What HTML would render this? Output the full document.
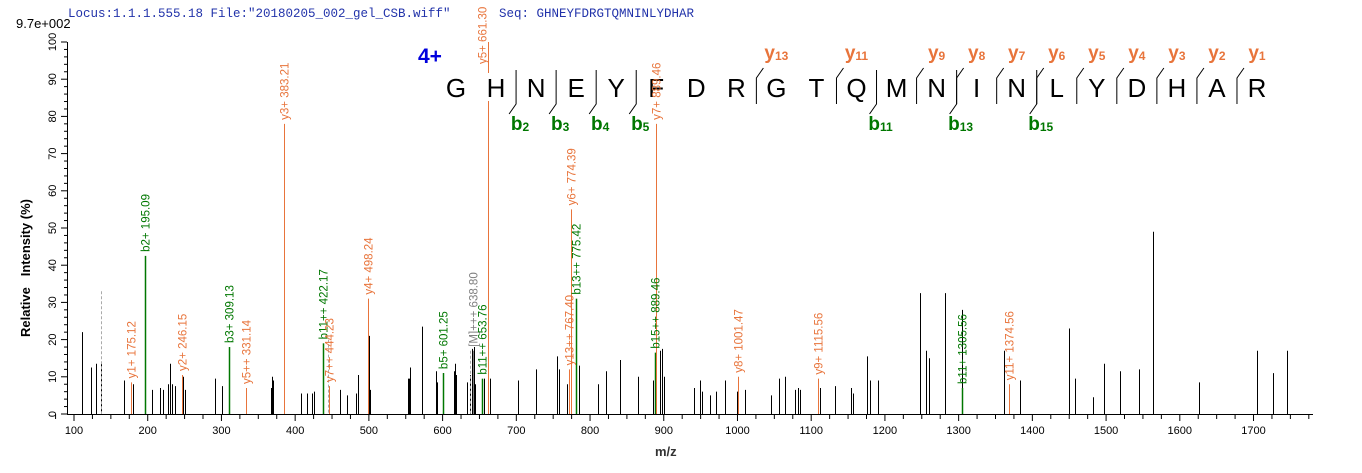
<!DOCTYPE html>
<html><head><meta charset="utf-8"><style>
html,body{margin:0;padding:0;background:#fff;width:1362px;height:473px;overflow:hidden}
svg{display:block;font-family:"Liberation Sans",Arial,sans-serif}
</style></head><body>
<svg id="s" width="1362" height="473" xmlns="http://www.w3.org/2000/svg">
<text x="68" y="17" font-family="Liberation Mono,monospace" font-size="12.5" fill="#2233aa">Locus:1.1.1.555.18 File:"20180205_002_gel_CSB.wiff"</text>
<text x="499" y="17" font-family="Liberation Mono,monospace" font-size="12.5" fill="#2233aa">Seq: GHNEYFDRGTQMNINLYDHAR</text>
<text x="16" y="28" font-size="13" fill="#000">9.7e+002</text>
<text x="655" y="456" font-size="13" font-weight="bold" fill="#333">m/z</text>
<text transform="translate(30,268) rotate(-90)" font-size="13" font-weight="bold" fill="#000" text-anchor="middle">Relative&#160;&#160;&#160;Intensity (%)</text>
<text x="418" y="63" font-size="21" font-weight="bold" fill="#0000dd">4+</text>
<g id="ax" stroke="#000" stroke-width="1"></g>
<g id="pk"></g>
<g id="seq"></g>
</svg>
<script>
var NS="http://www.w3.org/2000/svg";
function el(p,t,a,txt){var e=document.createElementNS(NS,t);for(var k in a)e.setAttribute(k,a[k]);if(txt!=null)e.textContent=txt;p.appendChild(e);return e;}
var ax=document.getElementById('ax'),pk=document.getElementById('pk'),sq=document.getElementById('seq'),s=document.getElementById('s');
function X(m){return 74+(m-100)*0.7372;}
function Y(h){return 414-h*3.72;}
el(ax,'line',{x1:67,y1:414.5,x2:1313,y2:414.5});
el(ax,'line',{x1:67.5,y1:Y(100),x2:67.5,y2:414.5});
for(var i=0;i<=50;i++){var y=Y(i*2);el(ax,'line',{x1:i%5==0?61:64,y1:y,x2:67,y2:y});}
for(i=0;i<=10;i++){el(s,'text',{transform:'translate(56,'+(Y(i*10)+0)+') rotate(-90)','font-size':11,'text-anchor':'middle',fill:'#000'},String(i*10));}
for(var m=75;m<=1775;m+=25){var x=X(m);el(ax,'line',{x1:x,y1:414,x2:x,y2:m%100==0?421:419});}
for(m=100;m<=1700;m+=100){el(s,'text',{x:X(m),y:434,'font-size':11,'text-anchor':'middle',fill:'#000'},String(m));}
var B=[[82,22],[91,12.5],[96,13.5],[101,14],[124,9],[133,8],[152,6.5],[160,7],[163,6.5],[168,8],[170,13.5],[172,8],[175,7.5],[183,10],[185,6.5],[215,9.5],[222,7.5],[271,7],[272,10],[273,9],[301,5.5],[307,5.5],[312,5.5],[314,6],[340,6.5],[347,5],[356,5.5],[358,10.5],[369,21],[370,6.5],[408,9.5],[409,9.5],[410,12.5],[422,23.5],[422,7.5],[436,11.5],[437,8.5],[443,11],[454,11.5],[455,13.5],[456,10.5],[467,8.5],[470,10.5],[472,17.5],[474,18],[475,8],[484,9.5],[490,9.5],[518,9],[536,12],[557,15.5],[559,12],[567,8],[579,13],[598,8],[606,11.5],[620,14.5],[638,10],[653,9],[660,17],[662,17.5],[664,10],[694,7],[700,9],[702,6],[710,5],[716,6],[725,9],[737,6],[745,6.5],[771,5],[779,9.5],[785,10],[795,6.5],[798,7],[800,6.5],[818,8],[820,7],[835,7.5],[851,7],[853,5.5],[867,15.5],[870,9],[878,9],[920,32.5],[926,17],[929,15],[945,32.5],[962,28],[1004,17],[1020,9],[1069,23],[1075,9.5],[1093,4.5],[1104,13.5],[1120,11.5],[1139,12],[1153,49],[1199,8.5],[1257,17],[1273,11],[1287,17]];
B.forEach(function(p){el(pk,'line',{x1:p[0]+.5,y1:Y(p[1]),x2:p[0]+.5,y2:414,stroke:'#000','stroke-width':1});});
el(pk,'line',{x1:101.5,y1:Y(33),x2:101.5,y2:414,stroke:'#aaa','stroke-dasharray':'3,2'});
el(pk,'line',{x1:328.5,y1:Y(20),x2:328.5,y2:414,stroke:'#aaa','stroke-dasharray':'3,2'});
el(pk,'line',{x1:470.5,y1:Y(17),x2:470.5,y2:414,stroke:'#aaa','stroke-dasharray':'3,2'});
var O='#e8743b',G='#007700',GR='#808080';
var A=[[131,8.5,O,'y1+ 175.12'],[145,42.5,G,'b2+ 195.09'],[182,10.5,O,'y2+ 246.15'],[229,18,G,'b3+ 309.13'],[246,7,O,'y5++ 331.14'],[284,78,O,'y3+ 383.21'],[323,19,G,'b11++ 422.17'],[329,7.5,O,'y7++ 444.23'],[368,31,O,'y4+ 498.24'],[443,11,G,'b5+ 601.25'],[473,17,GR,'[M]+++ 638.80'],[482,9.5,G,'b11++ 653.76'],[488,100,O,'y5+ 661.30'],[569,12,O,'y13++ 767.40'],[571,55,O,'y6+ 774.39'],[576,31,G,'b13++ 775.42'],[655,16.5,G,'b15++ 889.46'],[656,78,O,'y7+ 889.46'],[738,10,O,'y8+ 1001.47'],[818,9.5,O,'y9+ 1115.56'],[962,7,G,'b11+ 1305.56'],[1009,8,O,'y11+ 1374.56']];
A.forEach(function(p){var x=p[0]+.5;el(pk,'line',{x1:x,y1:Y(p[1]),x2:x,y2:414,stroke:p[2],'stroke-width':p[2]==G?1.5:1});
if(p[1]<95) el(s,'text',{transform:'translate('+(x+4)+','+(Y(p[1])-4)+') rotate(-90)','font-size':11.5,fill:p[2]},p[3]);
else el(s,'text',{transform:'translate('+(x-2)+',64) rotate(-90)','font-size':11.5,fill:p[2]},p[3]);});
var seq="GHNEYFDRGTQMNINLYDHAR";
for(i=0;i<seq.length;i++){el(sq,'rect',{x:456+i*40.05-11,y:73,width:22,height:28,fill:'#fff'});el(sq,'text',{x:456+i*40.05,y:97,'font-size':26,'text-anchor':'middle',fill:'#000'},seq[i]);}
function cx(i){return 456+(i+0.5)*40.05;}
[13,11,9,8,7,6,5,4,3,2,1].forEach(function(n){var b=seq.length-n-1;var x=cx(b);
 el(sq,'polyline',{points:x+',104 '+x+',78 '+(x+7)+',68',fill:'none',stroke:'#000','stroke-width':1});
 var t=el(sq,'text',{x:x+20,y:59,'font-size':19,'font-weight':'bold',fill:O,'text-anchor':'middle'},'y');
 el(t,'tspan',{'font-size':12,dy:1},String(n));});
[2,3,4,5,11,13,15].forEach(function(n){var x=cx(n-1);
 el(sq,'polyline',{points:x+',70 '+x+',104 '+(x-7)+',114',fill:'none',stroke:'#000','stroke-width':1});
 var t=el(sq,'text',{x:x+4,y:130,'font-size':19,'font-weight':'bold',fill:G,'text-anchor':'middle'},'b');
 el(t,'tspan',{'font-size':12,dy:1},String(n));});
</script>
</body></html>
